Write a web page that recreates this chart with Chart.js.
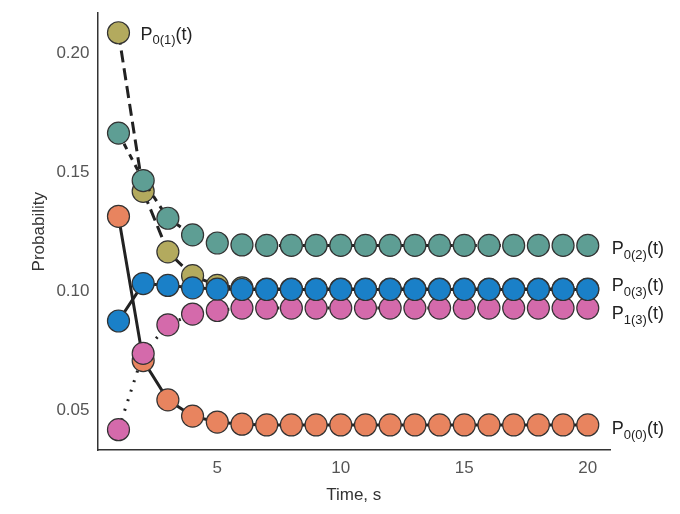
<!DOCTYPE html>
<html>
<head>
<script src="https://cdn.jsdelivr.net/npm/chart.js@4"></script>
<style>body{margin:0;background:#fff}#wrap{width:680px;height:514px}</style>
</head>
<body>
<div id="wrap"><canvas id="c"></canvas></div>
<script>
var times = [1,2,3,4,5,6,7,8,9,10,11,12,13,14,15,16,17,18,19,20];
var p01 = [0.2085,0.142,0.1166,0.1066,0.1025,0.1015,0.101,0.101,0.101,0.101,0.101,0.101,0.101,0.101,0.101,0.101,0.101,0.101,0.101,0.101];
var p02 = [0.1664,0.1465,0.1307,0.1237,0.1203,0.1195,0.1193,0.1193,0.1193,0.1193,0.1193,0.1193,0.1193,0.1193,0.1193,0.1193,0.1193,0.1193,0.1193,0.1193];
var p03 = [0.0876,0.1033,0.1025,0.1015,0.101,0.1008,0.1008,0.1008,0.1008,0.1008,0.1008,0.1008,0.1008,0.1008,0.1008,0.1008,0.1008,0.1008,0.1008,0.1008];
var p13 = [0.042,0.074,0.086,0.0905,0.092,0.093,0.093,0.093,0.093,0.093,0.093,0.093,0.093,0.093,0.093,0.093,0.093,0.093,0.093,0.093];
var p00 = [0.1315,0.071,0.0545,0.0477,0.0452,0.0443,0.044,0.044,0.044,0.044,0.044,0.044,0.044,0.044,0.044,0.044,0.044,0.044,0.044,0.044];
var yTicks = [0.05,0.10,0.15,0.20];
var xTicks = [5,10,15,20];

function ser(vals, color, dash, sub, lab, order) {
    return {
        data: times.map((t, i) => ({x: t, y: vals[i]})),
        backgroundColor: color, borderColor: '#222', borderWidth: 3, borderDash: dash,
        pointRadius: 11, pointBorderColor: '#333', pointBorderWidth: 1.2,
        pointBackgroundColor: color, sub: sub, lab: lab, order: order
    };
}

var labelPlugin = {
    id: 'labels',
    afterDatasetsDraw(chart) {
        var ctx = chart.ctx;
        chart.data.datasets.forEach(ds => {
            if (!ds.lab) return;
            var xs = chart.scales.x, ys = chart.scales.y;
            var px, py;
            if (ds.lab === 'top') { px = xs.getPixelForValue(times[0]) + 22; py = ys.getPixelForValue(ds.data[0].y) + 2; }
            else { px = xs.getPixelForValue(20) + 24; py = ys.getPixelForValue(ds.data[19].y) + ds.dy; }
            ctx.save();
            ctx.fillStyle = '#222';
            ctx.textBaseline = 'middle';
            ctx.font = '18px Arial, "Liberation Sans"';
            ctx.fillText('P', px, py);
            var w = ctx.measureText('P').width;
            ctx.font = '13px Arial, "Liberation Sans"';
            ctx.fillText(ds.sub, px + w, py + 6);
            var w2 = ctx.measureText(ds.sub).width;
            ctx.font = '18px Arial, "Liberation Sans"';
            ctx.fillText('(t)', px + w + w2, py);
            ctx.restore();
        });
    }
};

var d01 = ser(p01, '#b3aa5e', [12, 6], '0(1)', 'top', 5);
var d02 = ser(p02, '#5e9e94', [6, 6], '0(2)', 'right', 4); d02.dy = 4;
var d03 = ser(p03, '#1a80c8', [], '0(3)', 'right', 1); d03.dy = -3;
var d13 = ser(p13, '#d46aab', [2, 8], '1(3)', 'right', 2); d13.dy = 6;
var d00 = ser(p00, '#e8845f', [], '0(0)', 'right', 3); d00.dy = 4;

new Chart(document.getElementById('c'), {
    type: 'line',
    data: { datasets: [d01, d02, d03, d13, d00] },
    options: {
        responsive: true, maintainAspectRatio: false, animation: false,
        layout: { padding: { top: 10, right: 70, bottom: 4, left: 25 } },
        plugins: { legend: { display: false }, tooltip: { enabled: false } },
        scales: {
            x: {
                type: 'linear', min: 0.15, max: 20.9,
                grid: { display: false, drawTicks: true, tickLength: 5, tickColor: '#333' },
                border: { color: '#333', width: 1.5 },
                afterBuildTicks: a => { a.ticks = xTicks.map(v => ({value: v})); },
                ticks: { color: '#555', font: { size: 17, family: 'Arial' } },
                title: { display: true, text: 'Time, s', color: '#333', font: { size: 17, family: 'Arial' } }
            },
            y: {
                min: 0.0334, max: 0.2167,
                grid: { display: false, tickLength: 5, tickColor: '#333' },
                border: { color: '#333', width: 1.5 },
                afterBuildTicks: a => { a.ticks = yTicks.map(v => ({value: v})); },
                ticks: { color: '#555', font: { size: 17, family: 'Arial' }, callback: v => v.toFixed(2) },
                title: { display: true, text: 'Probability', color: '#333', font: { size: 17, family: 'Arial' } }
            }
        }
    },
    plugins: [labelPlugin]
});
</script>
</body>
</html>
